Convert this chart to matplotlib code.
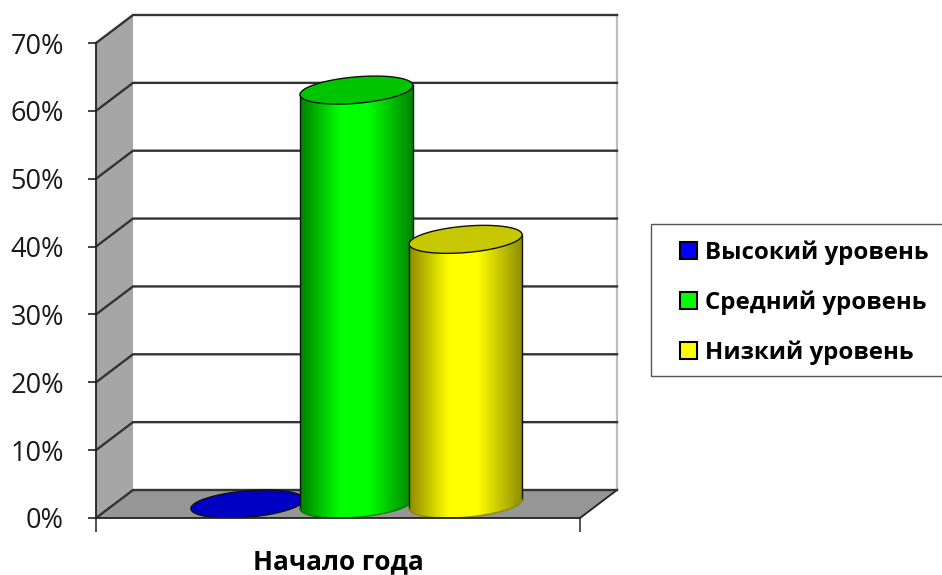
import numpy as np
import matplotlib
matplotlib.use('Agg')
import matplotlib.pyplot as plt
from matplotlib.colors import LinearSegmentedColormap
from matplotlib.patches import Polygon, Rectangle

category = 'Начало года'
series = ['Высокий уровень', 'Средний уровень', 'Низкий уровень']
values = [0, 61, 39]
y_ticks = [0, 10, 20, 30, 40, 50, 60, 70]

colors = ['#0000ff', '#00ff00', '#ffff00']
top_colors = ['#0000c4', '#00c400', '#c8c800']
edge_colors = ['#000070', '#008000', '#8c8c00']

W, H = 942, 575
fig = plt.figure(figsize=(W / 100, H / 100), dpi=100)
ax = fig.add_axes([96 / W, 1 - 518 / H, (580 - 96) / W, (518 - 43) / H])
ax.patch.set_alpha(0)

# depth of the fake 3d box, in data units
depth_x = 37 / 484
depth_y = 28 / 6.786
step = 0.2255
bar_w = 0.2207

xmin, xmax, ymin, ymax = 0, 1, 0, 70

# walls
ax.add_patch(Polygon([(0, 0), (depth_x, depth_y), (depth_x, 70 + depth_y), (0, 70)],
                     fc='#a6a6a6', ec='none', clip_on=False, zorder=1))
ax.add_patch(Polygon([(0, 0), (1, 0), (1 + depth_x, depth_y), (depth_x, depth_y)],
                     fc='#969696', ec='none', clip_on=False, zorder=1))
ax.plot([1 + depth_x, 1 + depth_x], [depth_y, 70 + depth_y], color='#bdbdbd', lw=1.6,
        clip_on=False, zorder=1.5)
ax.plot([1, 1 + depth_x], [0, depth_y], color='#222222', lw=1.3, clip_on=False, zorder=2)
for v in y_ticks:
    ax.plot([0, depth_x, 1 + depth_x], [v, v + depth_y, v + depth_y], color='#333333',
            lw=1.7, clip_on=False, zorder=2, solid_joinstyle='miter')


def ellipse(cx, v, t):
    x = cx + depth_x / 2 + bar_w / 2 * np.cos(t) + depth_x / 2 * np.sin(t)
    y = v + depth_y / 2 + depth_y / 2 * np.sin(t)
    return np.column_stack([x, y])


# angle where the ellipse reaches its right side on screen
t0 = np.arctan2(depth_x / 2, bar_w / 2)

for i, v in enumerate(values):
    cx = 0.5 + (i - 1) * step
    z = 3 + i
    if v > 0:
        lower = ellipse(cx, 0, np.linspace(t0 + np.pi, t0 + 2 * np.pi, 80))
        upper = ellipse(cx, v, np.linspace(t0, t0 + np.pi, 80))
        outline = np.vstack([lower, upper])
        body = Polygon(outline, fc='none', ec='none', zorder=z)
        ax.add_patch(body)
        cmap = LinearSegmentedColormap.from_list(
            'c', [(0, edge_colors[i]), (0.35, colors[i]), (0.6, colors[i]), (1, edge_colors[i])])
        left, right = lower[0, 0], lower[-1, 0]
        grad = np.linspace(0, 1, 256).reshape(1, -1)
        im = ax.imshow(grad, extent=[left, right, 0, v + depth_y + 2], aspect='auto',
                       cmap=cmap, zorder=z, interpolation='bilinear')
        im.set_clip_path(body)
        ax.plot([left, left], [lower[0, 1], upper[-1, 1]], color='#111111', lw=1, zorder=z + 0.1)
        ax.plot([right, right], [lower[-1, 1], upper[0, 1]], color='#111111', lw=1, zorder=z + 0.1)
        ax.plot(lower[:, 0], lower[:, 1], color=edge_colors[i], lw=1, zorder=z + 0.1)
    top = ellipse(cx, v, np.linspace(0, 2 * np.pi, 160))
    ax.add_patch(Polygon(top, fc=top_colors[i], ec='#111111', lw=1, zorder=z + 0.2))

ax.set_xlim(xmin, xmax)
ax.set_ylim(ymin, ymax)

for side in ['top', 'right']:
    ax.spines[side].set_visible(False)
for side in ['left', 'bottom']:
    ax.spines[side].set_color('#222222')
    ax.spines[side].set_linewidth(1.3)
    ax.spines[side].set_zorder(10)

ax.set_yticks(y_ticks, [f'{v}%' for v in y_ticks], family='Open Sans', fontsize=19.5,
              color='#1a1a1a')
ax.tick_params(axis='y', length=6, width=1.2, color='#222222', pad=17)
ax.set_xticks([0, 1], ['', ''])
ax.tick_params(axis='x', length=10, width=1.2, color='#333333')
ax.set_xticks([0.5], [category], minor=True, family='Open Sans', weight='bold', fontsize=18.8)
ax.tick_params(axis='x', which='minor', length=0, pad=22, labelcolor='black')

# legend box, its right side runs off the picture
fig.add_artist(Rectangle((651 / W, 1 - 376 / H), 320 / W, 152 / H, fc='white', ec='#555555',
                         lw=1, transform=fig.transFigure))
handles = [Rectangle((0, 0), 1, 1, fc=c, ec='black', lw=1.5) for c in colors]
fig.legend(handles, series, loc='center left', bbox_to_anchor=(680 / W, 1 - 302.5 / H),
           frameon=False, borderpad=0, borderaxespad=0, handlelength=0.7, handleheight=0.7,
           handletextpad=0.33, labelspacing=1.07,
           prop={'family': 'Open Sans', 'weight': 'bold', 'size': 17.3})

fig.savefig('out.png', dpi=100)
